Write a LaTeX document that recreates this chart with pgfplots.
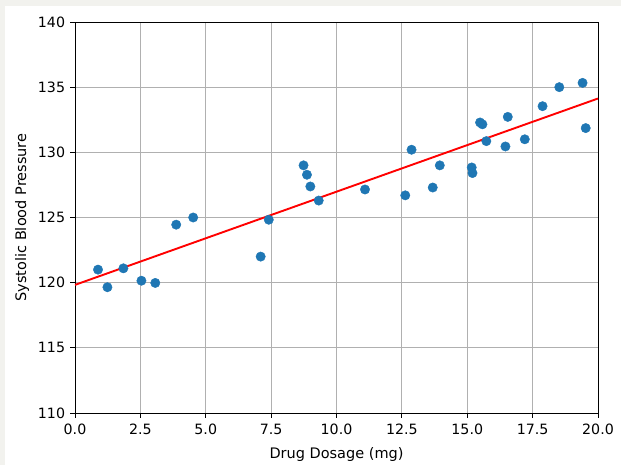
\documentclass[border=0pt]{standalone}
\usepackage{pgfplots}
\pgfplotsset{compat=1.18}
\usepackage{fontspec}
\setmainfont{DejaVu Sans}
\definecolor{mplblue}{HTML}{1F77B4}
\definecolor{gridgray}{HTML}{B0B0B0}
\definecolor{framegray}{HTML}{F2F2EE}

\pgfplotstableread{
x y
0.88 121.0
1.24 119.65
1.85 121.1
2.54 120.15
3.07 119.98
3.87 124.45
4.52 125.0
7.10 122.0
7.41 124.83
8.74 129.0
8.87 128.28
9.00 127.38
9.32 126.3
11.09 127.15
12.63 126.7
12.87 130.2
13.68 127.3
13.95 129.0
15.17 128.84
15.20 128.41
15.49 132.29
15.58 132.15
15.73 130.86
16.46 130.45
16.55 132.72
17.20 131.0
17.88 133.54
18.52 135.0
19.41 135.33
19.53 131.86
}\bpdata

\begin{document}
\fontsize{14.5}{17}\selectfont
\begin{tikzpicture}
% page background with a thin off-white frame on the left and top
\fill[framegray] (-75pt,-52pt) rectangle (546pt,413pt);
\fill[white] (-70pt,-52pt) rectangle (546pt,407pt);
\begin{axis}[
  at={(0pt,0pt)}, anchor=south west,
  scale only axis, width=523pt, height=391pt,
  xmin=0, xmax=20, ymin=110, ymax=140,
  xtick={0,2.5,...,20}, ytick={110,115,...,140},
  xticklabel style={yshift=-1.5pt, /pgf/number format/.cd, fixed, fixed zerofill, precision=1},
  /pgf/number format/assume math mode=true,
  grid=major,
  major grid style={gridgray, line width=0.8pt},
  axis line style={black, line width=0.8pt},
  tick align=outside, major tick length=4.9pt,
  tick style={black, line width=0.8pt},
  xtick pos=bottom, ytick pos=left,
  xlabel={Drug Dosage (mg)}, ylabel={Systolic Blood Pressure},
  xlabel style={yshift=-2pt}, ylabel style={yshift=-1pt},
  tick label style={font=\fontsize{14.2}{17}\selectfont},
  label style={font=\fontsize{14.5}{17}\selectfont},
]
\addplot[only marks, mark=*, mark size=4.7pt, mark options={fill=mplblue, draw=mplblue}] table {\bpdata};
\addplot[red, line width=1.9pt] coordinates {(0,119.83) (20,134.13)};
\end{axis}
\end{tikzpicture}
\end{document}
